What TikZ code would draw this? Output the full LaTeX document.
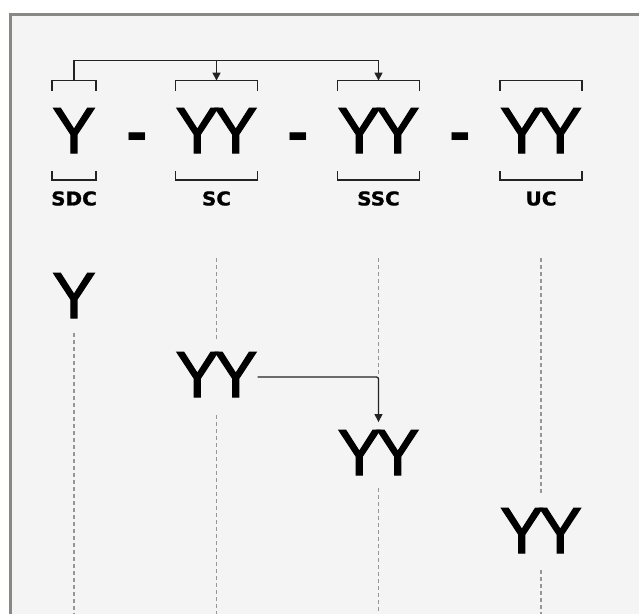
\documentclass[tikz,border=0pt]{standalone}
\usepackage{fontspec}
\usepackage{tikz}
\usepackage{xcolor}
\usetikzlibrary{arrows.meta}
\setmainfont{Liberation Sans}
\newfontfamily\glyphfont{Liberation Sans}[FakeBold=2]
\newfontfamily\tagfont{DejaVu Sans}[FakeStretch=1.05, FakeBold=1]

\definecolor{panel}{RGB}{244,244,244}
\definecolor{rim}{RGB}{136,136,132}
\definecolor{guideline}{RGB}{150,150,150}
\definecolor{ink}{RGB}{35,35,35}

\newcommand{\yy}{Y\kern-5pt Y}
\newcommand{\capbracket}[1]{\draw[bracket] ([yshift=17.5pt]#1.north west) |- ([yshift=27.5pt]#1.north) -| ([yshift=17.5pt]#1.north east);}
\newcommand{\footbracket}[1]{\draw[bracket] ([yshift=-18pt]#1.south west) |- ([yshift=-27pt]#1.south) -| ([yshift=-18pt]#1.south east);}

\tikzset{
    glyph/.style={inner sep=0pt, anchor=base, font=\glyphfont\fontsize{65}{65}\selectfont},
    hyph/.style={inner sep=0pt, anchor=base, font=\fontsize{65}{65}\selectfont\bfseries},
    tag/.style={inner sep=0pt, font=\tagfont\fontsize{19}{19}\selectfont\bfseries},
    bracket/.style={draw=ink, line width=1.5pt},
    flow/.style={draw=ink, line width=1.3pt, -{Triangle[length=8pt,width=8pt]}},
    guide/.style={draw=guideline, line width=1.3pt, dash pattern=on 4pt off 3pt}
}

\begin{document}
\begin{tikzpicture}[x=1pt, y=1pt]
        \useasboundingbox (0,0) rectangle (639,-613);
        \fill[white] (0,0) rectangle (639,-613);
        \draw[draw=rim, fill=panel, line width=3.5pt] (10.3,-14.7) rectangle (700,-700);

        \node (sdc)  at ( 74.0,-153) [glyph] {Y};
        \node (d1)   at (137.5,-153) [hyph]  {-};
        \node (sc)   at (216.5,-153) [glyph] {\yy};
        \node (d2)   at (298.5,-153) [hyph]  {-};
        \node (ssc)  at (378.5,-153) [glyph] {\yy};
        \node (d3)   at (460.5,-153) [hyph]  {-};
        \node (uc)   at (541.0,-153) [glyph] {\yy};

        \node (sdct) at ( 74.0,-198.5) [tag] {SDC};
        \node (sct)  at (216.5,-198.5) [tag] {SC};
        \node (ssct) at (378.5,-198.5) [tag] {SSC};
        \node (uct)  at (541.0,-198.5) [tag] {UC};

        \capbracket{sdc}  \capbracket{sc}  \capbracket{ssc}  \capbracket{uc}
        \footbracket{sdc} \footbracket{sc} \footbracket{ssc} \footbracket{uc}

        \draw[flow] ([yshift=27.5pt]sdc.north) -- ++(0,20) coordinate (bus) -| ([yshift=27.5pt]ssc.north);
        \draw[flow] (bus -| sc.north) -- ([yshift=27.5pt]sc.north);

        \node (y1)  at ( 74.0,-318) [glyph] {Y};
        \node (yy2) at (216.5,-397) [glyph] {\yy};
        \node (yy3) at (378.5,-475) [glyph] {\yy};
        \node (yy4) at (541.0,-553) [glyph] {\yy};

        \coordinate (top)   at (0,-258);
        \coordinate (floor) at (0,-615);

        \draw[flow, rounded corners=2pt] ([yshift=20pt]yy2.base east) coordinate (hand) -| ([yshift=8pt]yy3.north);

        \draw[guide] ([yshift=-15pt]y1.south) -- (y1 |- floor);
        \draw[guide] (yy2 |- top) -- ([yshift=13.5pt]yy2.north);
        \draw[guide] ([yshift=-18pt]yy2.south) -- (yy2 |- floor);
        \draw[guide] (yy3 |- top) -- (yy3 |- hand);
        \draw[guide] ([yshift=-13pt]yy3.south) -- (yy3 |- floor);
        \draw[guide] (yy4 |- top) -- ([yshift=15pt]yy4.north);
        \draw[guide] ([yshift=-17pt]yy4.south) -- (yy4 |- floor);
    \end{tikzpicture}
\end{document}
